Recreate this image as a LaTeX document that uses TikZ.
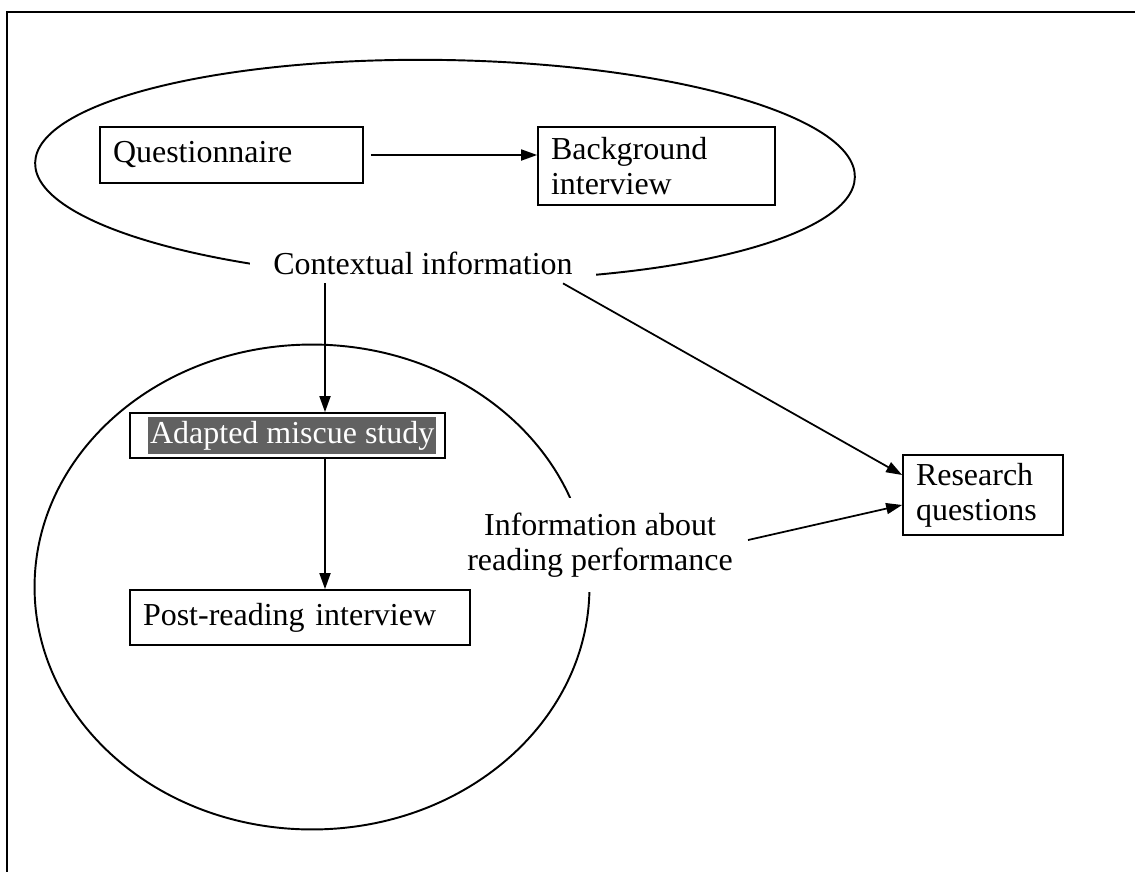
\documentclass[tikz,border=0pt]{standalone}
\usepackage{fontspec}
\setmainfont{Liberation Serif}
\usetikzlibrary{arrows.meta,shapes.geometric}
\begin{document}
\begin{tikzpicture}[x=0.02cm,y=-0.02cm,
  every node/.style={font=\fontsize{18.2}{20}\selectfont},
  stepbox/.style={draw,line width=1pt,rectangle,inner xsep=0.26cm,inner ysep=0pt,align=left},
  group/.style={draw,line width=1.1pt,ellipse,inner sep=0pt},
  label/.style={fill=white,inner sep=0pt,align=center},
  flow/.style={line width=1pt,-{Triangle[length=0.32cm,width=0.22cm]}}]
\useasboundingbox (0,0) rectangle (1135,872);
% open frame
\draw[line width=1.2pt] (1135,12) -- (7,12) -- (7,872);
% groups
\node[group,minimum width=16.4cm,minimum height=4.4cm,rotate=-1] (ctxgroup) at (445,170) {};
\node[group,minimum width=11.1cm,minimum height=9.7cm] (readgroup) at (312,587) {};
% group labels on white, breaking the outlines
\node[label,inner xsep=0.46cm,minimum height=0.8cm] (ctx) at (423,263) {Contextual information};
\node[label,inner xsep=0.3cm,inner ysep=0.3cm] (perf) at (600,545) {Information about\\reading performance};
% boxes
\node[stepbox,minimum width=5.26cm,minimum height=1.12cm,text width=4.74cm] (quest) at (231.5,155) {Questionnaire};
\node[stepbox,minimum width=4.74cm,minimum height=1.56cm,text width=4.22cm] (backg) at (656.5,166) {Background\\interview};
\node[stepbox,minimum width=6.3cm,minimum height=0.9cm,text width=5.78cm] (miscue) at (287.5,435.5) {};
\node[fill=black!62,text=white,inner xsep=1pt,inner ysep=2pt,anchor=west] (misctext) at (148,435.5) {Adapted miscue study};
\node[stepbox,minimum width=6.8cm,minimum height=1.1cm,text width=6.28cm] (post) at (300,617.5) {Post-reading interview};
\node[stepbox,minimum width=3.2cm,minimum height=1.6cm,text width=2.68cm] (research) at (983,495) {Research\\questions};
% connectors
\coordinate (axis) at (325,0);
\draw[flow] (quest.east) ++(7,0) coordinate (qs) -- (qs -| backg.west);
\draw[flow] (axis |- ctx.south) -- (axis |- miscue.north);
\draw[flow] (axis |- miscue.south) -- (axis |- post.north);
\draw[flow] ([xshift=-0.66cm]ctx.south east) -- ([yshift=0.4cm]research.west);
\draw[flow] ([yshift=0.1cm]perf.east) -- ([yshift=-0.2cm]research.west);
\end{tikzpicture}
\end{document}
